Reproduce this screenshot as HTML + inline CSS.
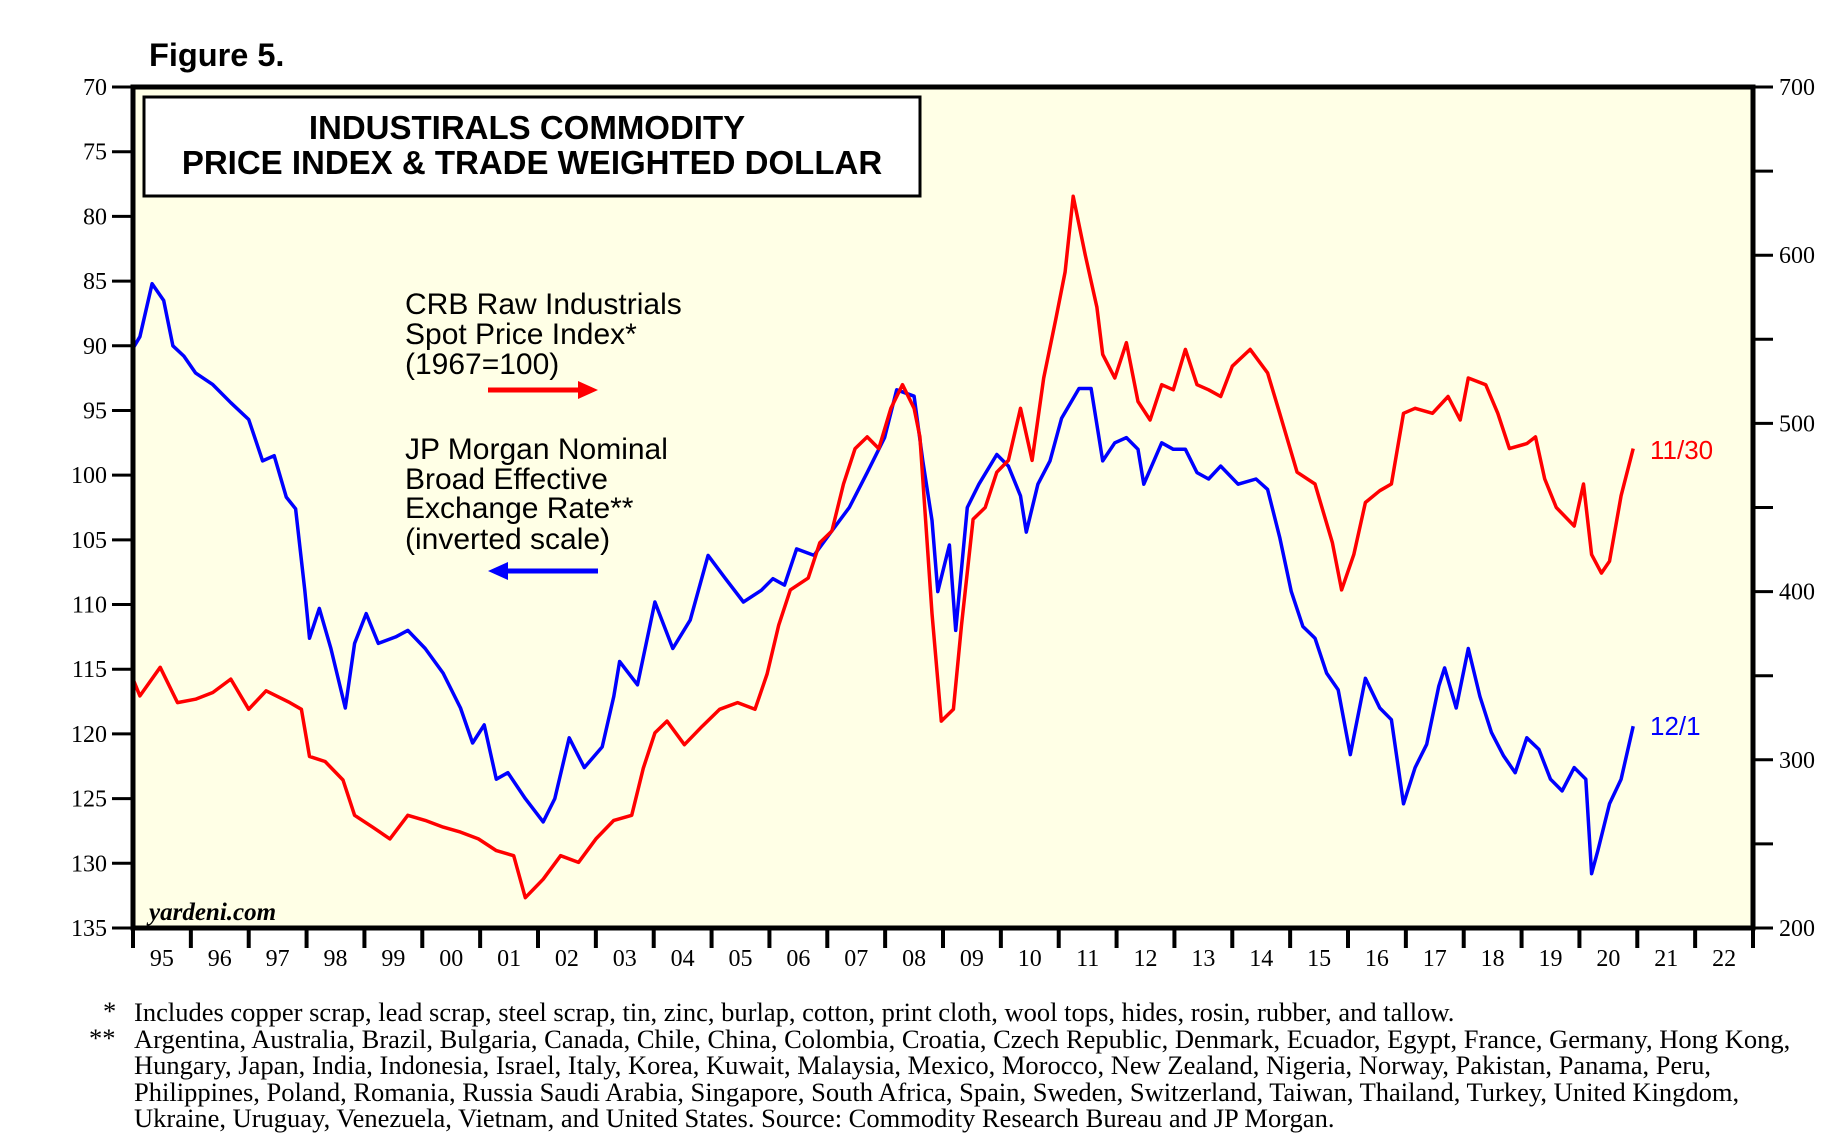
<!DOCTYPE html>
<html><head><meta charset="utf-8"><style>
html,body{margin:0;padding:0;background:#fff;}
body{width:1848px;height:1133px;overflow:hidden;position:relative;}
svg{position:absolute;left:0;top:0;}
</style></head><body>
<svg id="chart" width="1848" height="1133" viewBox="0 0 1848 1133" xmlns="http://www.w3.org/2000/svg">
<text x="149" y="66" font-family="Liberation Sans, sans-serif" font-weight="bold" font-size="32.5">Figure 5.</text>
<rect x="133" y="87" width="1620" height="841" fill="#FFFFE6"/>
<g id="grid"></g>
<g id="series"></g>
<rect x="133" y="87" width="1620" height="841" fill="none" stroke="#000" stroke-width="5"/>
<g>
<rect x="144" y="97" width="776" height="99" fill="#fff" stroke="#000" stroke-width="3"/>
<text x="527" y="139" text-anchor="middle" font-family="Liberation Sans, sans-serif" font-weight="bold" font-size="33">INDUSTIRALS COMMODITY</text>
<text x="532" y="174" text-anchor="middle" font-family="Liberation Sans, sans-serif" font-weight="bold" font-size="33">PRICE INDEX &amp; TRADE WEIGHTED DOLLAR</text>
</g>
<g font-family="Liberation Sans, sans-serif" font-size="30">
<text x="405" y="314">CRB Raw Industrials</text>
<text x="405" y="344">Spot Price Index*</text>
<text x="405" y="374">(1967=100)</text>
<line x1="488" y1="390" x2="585" y2="390" stroke="#f00" stroke-width="5"/>
<polygon points="598,390 578,381 578,399" fill="#f00"/>
</g>
<g font-family="Liberation Sans, sans-serif" font-size="30">
<text x="405" y="459">JP Morgan Nominal</text>
<text x="405" y="489">Broad Effective</text>
<text x="405" y="518">Exchange Rate**</text>
<text x="405" y="549">(inverted scale)</text>
<line x1="501" y1="571" x2="598" y2="571" stroke="#00f" stroke-width="5"/>
<polygon points="488,571 508,562 508,580" fill="#00f"/>
</g>
<text x="149" y="920" font-family="Liberation Serif, serif" font-weight="bold" font-style="italic" font-size="25">yardeni.com</text>
<text x="1650" y="459" fill="#f00" font-family="Liberation Sans, sans-serif" font-size="26">11/30</text>
<text x="1650" y="735" fill="#00f" font-family="Liberation Sans, sans-serif" font-size="26">12/1</text>
<g font-family="Liberation Serif, serif" font-size="26.5">
<text x="103" y="1020">*</text>
<text x="89" y="1047">**</text>
<text x="134" y="1021">Includes copper scrap, lead scrap, steel scrap, tin, zinc, burlap, cotton, print cloth, wool tops, hides, rosin, rubber, and tallow.</text>
<text x="134" y="1048">Argentina, Australia, Brazil, Bulgaria, Canada, Chile, China, Colombia, Croatia, Czech Republic, Denmark, Ecuador, Egypt, France, Germany, Hong Kong,</text>
<text x="134" y="1074">Hungary, Japan, India, Indonesia, Israel, Italy, Korea, Kuwait, Malaysia, Mexico, Morocco, New Zealand, Nigeria, Norway, Pakistan, Panama, Peru,</text>
<text x="134" y="1101">Philippines, Poland, Romania, Russia Saudi Arabia, Singapore, South Africa, Spain, Sweden, Switzerland, Taiwan, Thailand, Turkey, United Kingdom,</text>
<text x="134" y="1127">Ukraine, Uruguay, Venezuela, Vietnam, and United States. Source: Commodity Research Bureau and JP Morgan.</text>
</g>
</svg>
<script>
const yearLabels = ["95","96","97","98","99","00","01","02","03","04","05","06","07","08","09","10","11","12","13","14","15","16","17","18","19","20","21","22"];
const leftTicks = [70,75,80,85,90,95,100,105,110,115,120,125,130,135];
const rightTicks = [700,650,600,550,500,450,400,350,300,250,200];
const dollarDates = [1995.00,1995.12,1995.33,1995.53,1995.69,1995.88,1996.08,1996.38,1996.69,1997.00,1997.24,1997.44,1997.65,1997.81,1997.97,1998.05,1998.22,1998.42,1998.67,1998.83,1999.03,1999.24,1999.54,1999.75,2000.05,2000.36,2000.66,2000.87,2001.07,2001.28,2001.48,2001.78,2002.09,2002.29,2002.54,2002.80,2003.11,2003.31,2003.41,2003.72,2004.02,2004.33,2004.63,2004.94,2005.24,2005.55,2005.86,2006.06,2006.26,2006.47,2006.77,2007.08,2007.38,2007.69,2007.99,2008.20,2008.50,2008.65,2008.81,2008.91,2009.11,2009.22,2009.42,2009.62,2009.93,2010.13,2010.34,2010.44,2010.64,2010.85,2011.05,2011.35,2011.56,2011.76,2011.97,2012.17,2012.37,2012.47,2012.78,2012.98,2013.19,2013.39,2013.59,2013.80,2014.10,2014.41,2014.61,2014.82,2015.02,2015.22,2015.43,2015.63,2015.83,2016.04,2016.30,2016.55,2016.75,2016.96,2017.16,2017.36,2017.57,2017.67,2017.87,2018.08,2018.28,2018.48,2018.69,2018.89,2019.09,2019.30,2019.50,2019.70,2019.91,2020.11,2020.21,2020.32,2020.52,2020.72,2020.93];
const dollarValues = [90.2,89.3,85.2,86.5,90,90.8,92.1,93,94.4,95.7,98.9,98.5,101.7,102.6,108.9,112.6,110.3,113.4,118,113,110.7,113,112.5,112,113.4,115.3,118,120.7,119.3,123.5,123,125,126.8,125,120.3,122.6,121,117.1,114.4,116.2,109.8,113.4,111.2,106.2,108,109.8,108.9,108,108.5,105.7,106.2,104.3,102.5,99.8,97.1,93.4,93.9,98.9,103.5,109,105.4,112,102.5,100.7,98.4,99.3,101.6,104.4,100.7,98.9,95.6,93.3,93.3,98.9,97.5,97.1,98,100.7,97.5,98,98,99.8,100.3,99.3,100.7,100.3,101.1,104.8,109,111.7,112.6,115.3,116.6,121.6,115.7,118,118.9,125.4,122.6,120.8,116.3,114.9,118,113.4,117.1,119.9,121.7,123,120.3,121.2,123.5,124.4,122.6,123.5,130.8,129,125.4,123.5,119.4];
const crbDates = [1995.00,1995.12,1995.47,1995.77,1996.08,1996.38,1996.69,1997.00,1997.30,1997.71,1997.91,1998.05,1998.32,1998.63,1998.83,1999.14,1999.44,1999.75,2000.05,2000.36,2000.66,2000.97,2001.28,2001.58,2001.78,2002.09,2002.39,2002.70,2003.00,2003.31,2003.62,2003.82,2004.02,2004.23,2004.53,2004.84,2005.14,2005.45,2005.75,2005.96,2006.16,2006.36,2006.67,2006.87,2007.08,2007.28,2007.48,2007.69,2007.89,2008.10,2008.30,2008.50,2008.60,2008.81,2008.97,2009.18,2009.32,2009.52,2009.73,2009.93,2010.13,2010.34,2010.54,2010.74,2010.95,2011.11,2011.25,2011.46,2011.66,2011.76,2011.97,2012.17,2012.37,2012.58,2012.78,2012.98,2013.19,2013.39,2013.59,2013.80,2014.00,2014.31,2014.61,2014.82,2015.12,2015.43,2015.73,2015.89,2016.10,2016.30,2016.55,2016.75,2016.96,2017.16,2017.46,2017.73,2017.94,2018.08,2018.38,2018.59,2018.79,2019.09,2019.24,2019.40,2019.60,2019.91,2020.07,2020.21,2020.38,2020.52,2020.72,2020.93];
const crbValues = [348,338,355,334,336,340,348,330,341,334,330,302,299,288,267,260,253,267,264,260,257,253,246,243,218,229,243,239,253,264,267,295,316,323,309,320,330,334,330,351,380,401,408,429,436,464,485,492,485,509,523,509,492,387,323,330,380,443,450,471,478,509,478,527,562,590,635,600,569,541,527,548,513,502,523,520,544,523,520,516,534,544,530,506,471,464,429,401,422,453,460,464,506,509,506,516,502,527,523,506,485,488,492,467,450,439,464,422,411,418,457,485];

const NS = "http://www.w3.org/2000/svg";
const L = 133, R = 1753, T = 87, B = 928;
function xScale(yr){ return L + (yr - 1995) * (R - L) / 28; }
function yLeft(v){ return T + (v - 70) * (B - T) / 65; }
function yRight(v){ return B - (v - 200) * (B - T) / 500; }
function mk(tag, attrs, parent){ const e = document.createElementNS(NS, tag); for (const k in attrs) e.setAttribute(k, attrs[k]); parent.appendChild(e); return e; }

const svg = document.getElementById('chart');
leftTicks.forEach(v => {
  const y = yLeft(v);
  const t = mk('line', {x1: 112, x2: 133, y1: y, y2: y, stroke: '#000', 'stroke-width': 3}, svg);
  
  
  const lb = mk('text', {x: 107, y: y + 8, 'text-anchor': 'end', 'font-family': 'Liberation Serif, serif', 'font-size': 24}, svg);
  lb.textContent = v;
  
  
});
rightTicks.forEach(v => {
  const y = yRight(v);
  const t = mk('line', {x1: 1753, x2: 1773, y1: y, y2: y, stroke: '#000', 'stroke-width': 3}, svg);
  
  
  if (v % 100 === 0) {
    const lb = mk('text', {x: 1779, y: y + 8, 'font-family': 'Liberation Serif, serif', 'font-size': 24}, svg);
    lb.textContent = v;
    
    
  }
});
for (let i = 0; i <= yearLabels.length; i++) {
  const x = xScale(1995 + i);
  const t = mk('line', {x1: x, x2: x, y1: 928, y2: 948, stroke: '#000', 'stroke-width': 4}, svg);
  
  
  if (i < yearLabels.length) {
    const lb = mk('text', {x: xScale(1995.5 + i), y: 966, 'text-anchor': 'middle', 'font-family': 'Liberation Serif, serif', 'font-size': 24}, svg);
    lb.textContent = yearLabels[i];
    
    
  }
}
const series = document.getElementById('series');
const dPts = dollarDates.map((d, i) => xScale(d).toFixed(1) + ',' + yLeft(dollarValues[i]).toFixed(1)).join(' ');
const dl = mk('polyline', {points: dPts, fill: 'none', stroke: '#0000ff', 'stroke-width': 3.5, 'stroke-linejoin': 'round'}, series);


const cPts = crbDates.map((d, i) => xScale(d).toFixed(1) + ',' + yRight(crbValues[i]).toFixed(1)).join(' ');
const cl = mk('polyline', {points: cPts, fill: 'none', stroke: '#ff0000', 'stroke-width': 3.5, 'stroke-linejoin': 'round'}, series);


</script>
</body></html>
